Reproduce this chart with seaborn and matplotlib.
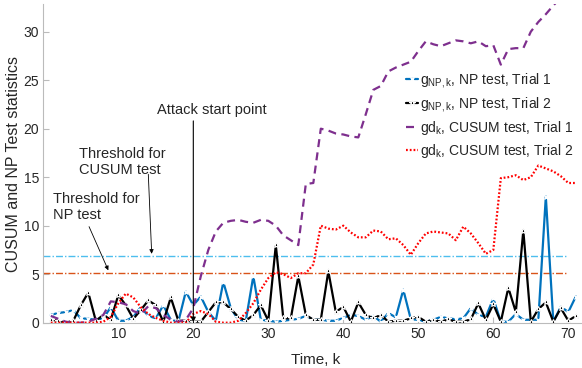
import matplotlib
matplotlib.use("Agg")
from matplotlib import pyplot as plt
import seaborn as sns

# time steps
k = list(range(1, 72))

# g_NP,k NP test, trial 1
np_trial1 = [0.8, 1.0, 1.1, 1.3, 0.45, 0.4, 0.3, 0.45, 1.6, 0.2,
             0.2, 0.6, 1.6, 0.7, 0.45, 1.8, 0.3, 0.1, 3.2, 1.8,
             2.7, 1.1, 0.2, 4.2, 1.5, 0.3, 0.2, 4.8, 0.3, 0.2,
             0.1, 0.2, 0.3, 0.4, 0.7, 0.3, 0.3, 0.2, 0.2, 0.5,
             0.8, 0.7, 0.3, 0.7, 0.1, 1.0, 0.55, 3.4, 0.35, 0.3,
             0.1, 0.3, 0.6, 0.45, 0.35, 0.45, 1.5, 0.8, 0.6, 2.5,
             0.1, 0.1, 0.9, 0.3, 0.3, 0.3, 13.0, 0.1, 1.65, 1.1,
             2.7]

# g_NP,k NP test, trial 2
np_trial2 = [0.3, 0.2, 0.0, 0.2, 1.8, 3.1, 0.2, 0.8, 0.3, 2.85,
             1.8, 0.4, 1.3, 2.3, 1.8, 0.1, 2.6, 0.2, 0.2, 0.1,
             0.1, 1.1, 2.1, 2.1, 1.4, 0.6, 0.2, 0.8, 1.8, 0.2,
             8.0, 0.45, 0.45, 4.8, 0.8, 0.3, 0.3, 5.3, 1.1, 1.65,
             0.1, 2.1, 0.8, 0.45, 0.8, 0.1, 0.2, 0.2, 0.45, 0.6,
             0.1, 0.3, 0.1, 0.35, 0.1, 0.1, 0.35, 2.0, 0.3, 1.9,
             0.1, 3.6, 1.1, 9.5, 0.1, 1.4, 2.1, 0.1, 1.5, 0.2,
             0.7]

# gd_k CUSUM test, trial 1
cusum_trial1 = [0.7, 0.4, 0.1, 0.0, 0.0, 0.1, 0.4, 0.8, 2.2, 2.1,
                1.9, 1.2, 0.9, 1.7, 1.5, 0.8, 0.3, 0.1, 0.3, 1.5,
                4.8, 7.5, 9.4, 10.3, 10.5, 10.6, 10.4, 10.3, 10.6, 10.5,
                10.0, 9.0, 8.5, 8.0, 14.3, 14.4, 20.0, 19.8, 19.5, 19.4,
                19.2, 19.1, 21.5, 24.0, 24.4, 25.9, 26.3, 26.6, 26.9, 28.0,
                29.0, 28.7, 28.5, 28.8, 29.1, 29.0, 28.8, 29.0, 28.5, 28.6,
                26.6, 28.2, 28.3, 28.3, 30.0, 31.0, 31.8, 32.7, 33.5, 34.2,
                34.8]

# gd_k CUSUM test, trial 2
cusum_trial2 = [0.0, 0.0, 0.0, 0.0, 0.0, 0.0, 0.0, 0.1, 0.6, 2.0,
                3.0, 2.6, 1.6, 0.9, 0.5, 0.2, 0.0, 0.0, 0.0, 0.9,
                1.2, 0.9, 0.1, 0.0, 0.0, 0.2, 1.0, 2.0, 3.4, 4.6,
                5.2, 5.0, 4.6, 5.1, 5.1, 6.0, 10.0, 9.7, 9.6, 10.0,
                9.3, 8.8, 8.8, 9.5, 9.4, 8.6, 8.7, 8.0, 7.0, 8.2,
                9.2, 9.4, 9.3, 9.2, 8.5, 9.9, 9.2, 8.2, 7.1, 7.5,
                14.9, 15.0, 15.2, 14.7, 15.0, 16.2, 15.9, 15.6, 15.1, 14.4,
                14.4]

# thresholds and attack start
threshold_k = [0, 70]
cusum_threshold = 6.9
np_threshold = 5.1
attack_k = 20

sns.set_theme(style="white")
plt.rcParams["font.family"] = ["Liberation Sans", "DejaVu Sans"]
plt.rcParams["mathtext.fontset"] = "custom"
plt.rcParams["mathtext.rm"] = "Liberation Sans"
plt.rcParams["mathtext.it"] = "Liberation Sans:italic"

fig = plt.figure(figsize=(5.82, 3.68), dpi=100)
ax = fig.add_axes([0.0744, 0.1231, 0.9253, 0.8647])

# threshold lines (drawn first, behind the data)
sns.lineplot(x=threshold_k, y=[cusum_threshold] * 2, ax=ax, color="#4DBEEE",
             lw=1.0, linestyle=(0, (5, 1.5, 1, 1.5)))
sns.lineplot(x=threshold_k, y=[np_threshold] * 2, ax=ax, color="#D95319",
             lw=1.0, linestyle=(0, (5, 1.5, 1, 1.5)))

sns.lineplot(x=k, y=np_trial1, ax=ax, color="#0072BD", lw=1.6, marker="x",
             markersize=3, markeredgewidth=1.0, linestyle="-",
             label=r"g$_{\mathrm{NP,k}}$, NP test, Trial 1")
sns.lineplot(x=k, y=np_trial2, ax=ax, color="black", lw=1.6, marker="*",
             markersize=4, markeredgewidth=0.8, linestyle="-",
             label=r"g$_{\mathrm{NP,k}}$, NP test, Trial 2")
sns.lineplot(x=k, y=cusum_trial1, ax=ax, color="#7E2F8E", lw=1.6,
             linestyle=(0, (3.6, 2.4)),
             label=r"gd$_{\mathrm{k}}$, CUSUM test, Trial 1")
sns.lineplot(x=k, y=cusum_trial2, ax=ax, color="red", lw=1.6,
             linestyle=(0, (0.8, 0.9)),
             label=r"gd$_{\mathrm{k}}$, CUSUM test, Trial 2")

# annotations
ax.text(22.45, 21.9, "Attack start point", fontsize=10.5, ha="center", va="center")
ax.annotate("", xy=(attack_k, 0.05), xytext=(attack_k, 20.8),
            arrowprops=dict(arrowstyle="-|>", lw=0.8, color="black",
                            mutation_scale=7, shrinkA=0, shrinkB=0))
ax.text(4.76, 18.1, "Threshold for\nCUSUM test", fontsize=10.5, ha="left", va="top")
ax.annotate("", xy=(14.45, cusum_threshold + 0.2), xytext=(14.0, 15.3),
            arrowprops=dict(arrowstyle="-|>", lw=0.6, color="black",
                            mutation_scale=6, shrinkA=0, shrinkB=0))
ax.text(1.33, 13.5, "Threshold for\nNP test", fontsize=10.5, ha="left", va="top")
ax.annotate("", xy=(8.67, np_threshold + 0.3), xytext=(6.1, 9.9),
            arrowprops=dict(arrowstyle="-|>", lw=0.6, color="black",
                            mutation_scale=6, shrinkA=0, shrinkB=0))

ax.set_xlim(0, 71.8)
ax.set_ylim(0, 32.8)
ax.set_xticks([10, 20, 30, 40, 50, 60, 70])
ax.set_yticks([0, 5, 10, 15, 20, 25, 30])
ax.tick_params(axis="both", direction="in", length=4, width=0.8,
               color="#bbbbbb", labelsize=10, pad=3, left=True, bottom=True)
ax.set_xlabel("Time, k", fontsize=11, labelpad=3)
ax.set_ylabel("CUSUM and NP Test statistics", fontsize=11.5, labelpad=2)
ax.xaxis.set_label_coords(0.505, -0.095)
sns.despine(ax=ax)
for side in ["left", "bottom"]:
    ax.spines[side].set_color("#bbbbbb")
    ax.spines[side].set_linewidth(0.8)

leg = ax.legend(loc="upper left", bbox_to_anchor=(0.698, 0.807),
                bbox_transform=fig.transFigure, frameon=False, fontsize=10,
                handlelength=0.85, handletextpad=0.15, labelspacing=0.35,
                borderpad=0, borderaxespad=0, numpoints=1)

fig.savefig("out.png", dpi=100)
